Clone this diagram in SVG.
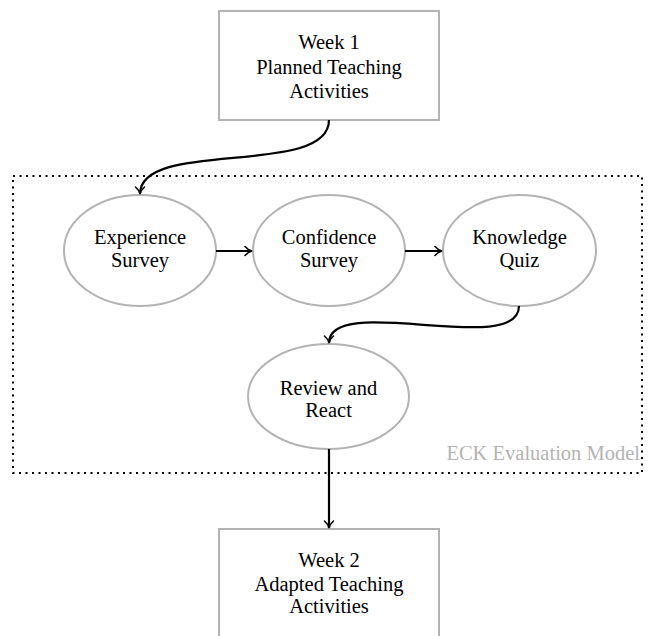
<svg xmlns="http://www.w3.org/2000/svg" width="648" height="636" viewBox="0 0 648 636">
<defs>
<style>
.box{fill:#fff;stroke:#b3b3b3;stroke-width:2}
.ell{fill:#fff;stroke:#b3b3b3;stroke-width:2}
.t{font-family:'Liberation Serif','Times New Roman',Times,'DejaVu Serif',serif;font-size:20.5px;fill:#000;text-anchor:middle}
.edge{fill:none;stroke:#000;stroke-width:2.2}
.frame{fill:none;stroke:#000;stroke-width:2;stroke-dasharray:2 4.5}
.lbl{font-family:'Liberation Serif','Times New Roman',Times,'DejaVu Serif',serif;font-size:20.5px;fill:#b3b3b3;text-anchor:end}
</style>
<marker id="arr" viewBox="0 0 12 12" refX="10" refY="6" markerWidth="12" markerHeight="12" markerUnits="userSpaceOnUse" orient="auto">
<path d="M3,1.5 Q6,5 10,6 Q6,7 3,10.5" fill="none" stroke="#000" stroke-width="1.6" stroke-linecap="round"/>
</marker>
</defs>
<rect id="frame" class="frame" x="13" y="176" width="629" height="297"/>
<text class="lbl" x="640" y="460">ECK Evaluation Model</text>
<g id="week1">
<rect class="box" x="219" y="11" width="220" height="109"/>
<text class="t" x="329" y="49">Week 1</text>
<text class="t" x="329" y="74">Planned Teaching</text>
<text class="t" x="329" y="98">Activities</text>
</g>
<g id="experience">
<ellipse class="ell" cx="140" cy="250.5" rx="76" ry="55.5"/>
<text class="t" x="140" y="244">Experience</text>
<text class="t" x="140" y="267">Survey</text>
</g>
<g id="confidence">
<ellipse class="ell" cx="329" cy="250.5" rx="76" ry="55.5"/>
<text class="t" x="329" y="244">Confidence</text>
<text class="t" x="329" y="267">Survey</text>
</g>
<g id="knowledge">
<ellipse class="ell" cx="519.5" cy="250.5" rx="76.5" ry="55.5"/>
<text class="t" x="519.5" y="244">Knowledge</text>
<text class="t" x="519.5" y="267">Quiz</text>
</g>
<g id="review">
<ellipse class="ell" cx="328.5" cy="396.5" rx="80.5" ry="52.5"/>
<text class="t" x="328.5" y="395">Review and</text>
<text class="t" x="328.5" y="417">React</text>
</g>
<g id="week2">
<rect class="box" x="219" y="529" width="220" height="120"/>
<text class="t" x="329" y="567">Week 2</text>
<text class="t" x="329" y="591">Adapted Teaching</text>
<text class="t" x="329" y="613">Activities</text>
</g>
<g id="connectors">
<path class="edge" marker-end="url(#arr)" d="M329,120 C329,178 140,138 140,194"/>
<path class="edge" marker-end="url(#arr)" d="M216,251 L252,251"/>
<path class="edge" marker-end="url(#arr)" d="M405,251 L442,251"/>
<path class="edge" marker-end="url(#arr)" d="M519,306 C519,358 329,292 329,343"/>
<path class="edge" marker-end="url(#arr)" d="M329,449 L329,528"/>
</g>
</svg>
